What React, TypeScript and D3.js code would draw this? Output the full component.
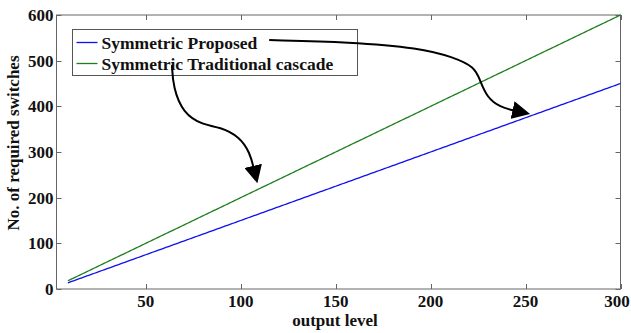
import React, { useEffect, useRef } from 'react';
import * as d3 from 'd3';

// output levels 9..300
const levels: number[] = d3.range(9, 301);
// number of switches: proposed ends at 450, traditional at 600
const proposedSlope = 1.5;
const traditionalSlope = 2;
const proposed: number[] = levels.map((n) => n * proposedSlope);
const traditional: number[] = levels.map((n) => n * traditionalSlope);

const xTicks = [50, 100, 150, 200, 250, 300];
const yTicks = [0, 100, 200, 300, 400, 500, 600];
const seriesNames = ['Symmetric Proposed', 'Symmetric Traditional cascade'];
const seriesColors = ['#1010ee', '#1f7f1f'];

// annotation arrows, in data units
const arrowA: [number, number][] = [
  [63.8, 490], [64.4, 442], [69.6, 385], [80.1, 359], [89.1, 355],
  [99.6, 333], [104.9, 298], [107, 262],
];
const arrowB: [number, number][] = [
  [115, 545], [157.5, 541], [194.4, 528], [211.7, 508], [223.3, 486],
  [225.9, 458], [229.6, 420], [236.5, 398], [245, 390],
];

export default function App() {
  const ref = useRef<SVGSVGElement>(null);

  useEffect(() => {
    const svg = d3.select(ref.current);
    svg.selectAll('*').remove();
    const font = '"Times New Roman", "Liberation Serif", serif';
    const fs = 17;
    const left = 56.5, top = 15, right = 620.5, bottom = 289;

    const x = d3.scaleLinear().domain([3, 300]).range([left, right]);
    const y = d3.scaleLinear().domain([0, 600]).range([bottom, top]);

    svg.append('rect').attr('width', 631).attr('height', 333).attr('fill', '#fff');

    const axisColor = '#666';
    const tick = 5;
    // box
    svg.append('rect')
      .attr('x', left).attr('y', top)
      .attr('width', right - left).attr('height', bottom - top)
      .attr('fill', 'none').attr('stroke', axisColor).attr('stroke-width', 1);

    xTicks.forEach((t) => {
      const px = Math.round(x(t)) + 0.5;
      svg.append('line').attr('x1', px).attr('x2', px).attr('y1', bottom).attr('y2', bottom - tick).attr('stroke', axisColor);
      svg.append('line').attr('x1', px).attr('x2', px).attr('y1', top).attr('y2', top + tick).attr('stroke', axisColor);
      svg.append('text').attr('x', Math.min(x(t), 617)).attr('y', bottom + 18)
        .attr('text-anchor', 'middle').attr('font-family', font).attr('font-weight', 'bold')
        .attr('font-size', fs).attr('fill', '#111').text(t);
    });
    yTicks.forEach((t) => {
      const py = Math.round(y(t)) + 0.5;
      svg.append('line').attr('x1', left).attr('x2', left + tick).attr('y1', py).attr('y2', py).attr('stroke', axisColor);
      svg.append('line').attr('x1', right).attr('x2', right - tick).attr('y1', py).attr('y2', py).attr('stroke', axisColor);
      svg.append('text').attr('x', left - 3).attr('y', y(t) + 6)
        .attr('text-anchor', 'end').attr('font-family', font).attr('font-weight', 'bold')
        .attr('font-size', fs).attr('fill', '#111').text(t);
    });

    const line = d3.line<number>().x((_, i) => x(levels[i])).y((d) => y(d));
    [proposed, traditional].forEach((s, i) => {
      svg.append('path').datum(s).attr('d', line).attr('fill', 'none')
        .attr('stroke', seriesColors[i]).attr('stroke-width', 1.3);
    });

    // legend
    const lg = svg.append('g').attr('transform', 'translate(72.5,29.5)');
    lg.append('rect').attr('width', 285).attr('height', 46).attr('fill', '#fff').attr('stroke', '#555');
    seriesNames.forEach((n, i) => {
      const cy = 13 + i * 21;
      lg.append('line').attr('x1', 4).attr('x2', 25).attr('y1', cy).attr('y2', cy)
        .attr('stroke', seriesColors[i]).attr('stroke-width', 1.3);
      lg.append('text').attr('x', 29).attr('y', cy + 6).attr('font-family', font)
        .attr('font-weight', 'bold').attr('font-size', 17.5).attr('fill', '#111').text(n);
    });

    // arrows
    const defs = svg.append('defs');
    defs.append('marker').attr('id', 'head').attr('markerUnits', 'userSpaceOnUse')
      .attr('viewBox', '0 0 10 10').attr('refX', 2).attr('refY', 5)
      .attr('markerWidth', 18).attr('markerHeight', 18).attr('orient', 'auto')
      .append('path').attr('d', 'M0,0 L10,5 L0,10 Z').attr('fill', '#000');
    const arrowLine = d3.line<[number, number]>().x((d) => x(d[0])).y((d) => y(d[1])).curve(d3.curveBasis);
    [arrowA, arrowB].forEach((a) => {
      svg.append('path').datum(a).attr('d', arrowLine).attr('fill', 'none')
        .attr('stroke', '#000').attr('stroke-width', 2).attr('marker-end', 'url(#head)');
    });

    svg.append('text').attr('x', 335).attr('y', 326)
      .attr('text-anchor', 'middle').attr('font-family', font).attr('font-weight', 'bold')
      .attr('font-size', fs).attr('fill', '#111').text('output level');
    svg.append('text').attr('transform', 'translate(19,143) rotate(-90)')
      .attr('text-anchor', 'middle').attr('font-family', font).attr('font-weight', 'bold')
      .attr('font-size', fs).attr('fill', '#111').text('No. of required switches');
  }, []);

  return (
    <svg ref={ref} width={631} height={333} style={{ position: 'absolute', left: 0, top: 0 }} />
  );
}
